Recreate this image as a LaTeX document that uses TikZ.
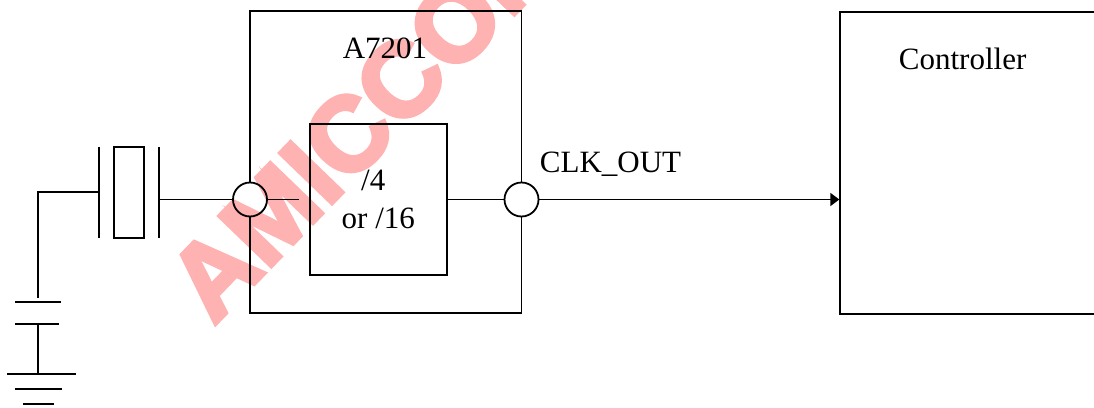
\documentclass[tikz,border=0pt]{standalone}
\usepackage{fontspec}
\setmainfont{Liberation Serif}
\newfontfamily\wmfont{Liberation Sans Bold}[FakeBold=4]
\usetikzlibrary{arrows.meta}
\definecolor{wmpink}{RGB}{255,178,178}
\begin{document}
\begin{tikzpicture}[x=1pt,y=-1pt,line width=1.8pt,
  pin/.style={circle,draw,minimum size=34pt,inner sep=0pt},
  blk/.style={draw,rectangle,inner sep=0pt},
  lbl/.style={font=\fontsize{31}{37}\selectfont,inner sep=0pt},
  wm/.style={text=wmpink,font=\wmfont\fontsize{105}{105}\selectfont,inner sep=0pt}]
\useasboundingbox (0,0) rectangle (1094,407);
\clip (0,0) rectangle (1094,407);
% watermark
\node[wm,rotate=46] (mark) at (366,116) {AMICCOM};
% A7201 block
\coordinate (otl) at (250,11);
\coordinate (otr) at (521.5,11);
\coordinate (obl) at (250,313);
\coordinate (obr) at (521.5,313);
\node[pin] (cin) at (250,199.5) {};
\node[pin] (cout) at (521.5,199.5) {};
\draw (cin.north) -- (otl) -- (otr) -- (cout.north);
\draw (cin.south) -- (obl) -- (obr) -- (cout.south);
\node[blk,minimum width=137pt,minimum height=151pt] (div) at (378.5,199.5) {};
\node[lbl,anchor=base] (a7201) at (385,58.3) {A7201};
\node[lbl,anchor=base] (d4) at (373.3,190.7) {/4};
\node[lbl,anchor=base] (d16) at (378.3,228.3) {or /16};
\node[lbl,anchor=base west] (clk) at (539,172.3) {CLK\_OUT};
% controller
\node[blk,anchor=north west,minimum width=280pt,minimum height=302.6pt] (ctrl) at (839.3,10.7) {};
\node[lbl,anchor=base west] (ctl) at (898,69.3) {Controller};
% crystal
\node[blk,minimum width=30pt,minimum height=91pt] (xtal) at (129,192.5) {};
\coordinate (p1t) at (99,147);
\coordinate (p1b) at (99,238);
\coordinate (p2t) at (159,147);
\coordinate (p2b) at (159,238);
\draw (p1t) -- (p1b);
\draw (p2t) -- (p2b);
\coordinate (p1w) at (99,192);
\coordinate (bend) at (38,192);
\coordinate (btop) at (38,298);
\draw (p1w) -- (bend) -- (btop);
% battery
\coordinate (b1l) at (15,302); \coordinate (b1r) at (61,302);
\coordinate (b2l) at (15,324); \coordinate (b2r) at (59,324);
\coordinate (b2m) at (38,324); \coordinate (gnd) at (38,374);
\draw (b1l) -- (b1r);
\draw (b2l) -- (b2r);
\draw (b2m) -- (gnd);
\coordinate (g1l) at (7,374); \coordinate (g1r) at (76,374);
\coordinate (g2l) at (15,389); \coordinate (g2r) at (62,389);
\coordinate (g3l) at (23,404); \coordinate (g3r) at (54,404);
\draw (g1l) -- (g1r);
\draw (g2l) -- (g2r);
\draw (g3l) -- (g3r);
% wires
\draw (p2t |- cin) -- (cin.west);
\coordinate (stub) at (299,199.5);
\draw (cin.east) -- (stub);
\draw (div.east) -- (cout.west);
\draw[-{Triangle[length=9pt,width=13pt]}] (cout.east) -- (cout.east -| ctrl.west);
\end{tikzpicture}
\end{document}
